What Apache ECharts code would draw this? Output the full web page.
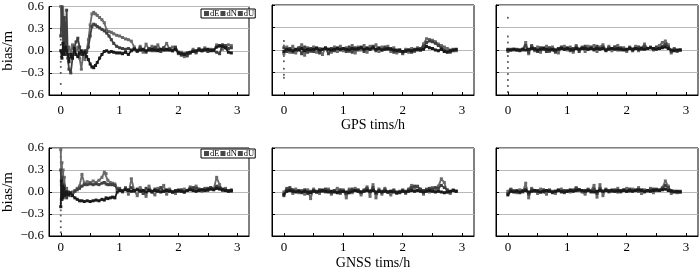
<!DOCTYPE html>
<html>
<head>
<meta charset="utf-8">
<script src="https://cdn.jsdelivr.net/npm/echarts@6/dist/echarts.min.js"></script>
<style>
  html, body { margin: 0; padding: 0; background: #fff; }
  #chart { width: 700px; height: 273px; }
</style>
</head>
<body>
<div id="chart"></div>
<script>
// time axis (h) for the converged panels
var tS = [
  0.00, 0.05, 0.10, 0.15, 0.20, 0.25, 0.30, 0.35, 0.40, 0.45,
  0.50, 0.55, 0.60, 0.65, 0.70, 0.75, 0.80, 0.85, 0.90, 0.95,
  1.00, 1.05, 1.10, 1.15, 1.20, 1.25, 1.30, 1.35, 1.40, 1.45,
  1.50, 1.55, 1.60, 1.65, 1.70, 1.75, 1.80, 1.85, 1.90, 1.95,
  2.00, 2.05, 2.10, 2.15, 2.20, 2.25, 2.30, 2.35, 2.40, 2.45,
  2.50, 2.55, 2.60, 2.65, 2.70, 2.75, 2.80, 2.85, 2.90];

// GPS, left panel
var t1 = [
  0.00, 0.02, 0.04, 0.06, 0.08, 0.10, 0.12, 0.14, 0.17, 0.20,
  0.23, 0.26, 0.29, 0.32, 0.35, 0.38, 0.41, 0.44, 0.47, 0.50,
  0.53, 0.56, 0.59, 0.62, 0.66, 0.70, 0.74, 0.78, 0.82, 0.86,
  0.90, 0.95, 1.00, 1.05, 1.10, 1.15, 1.20, 1.25, 1.30, 1.35,
  1.40, 1.45, 1.50, 1.55, 1.60, 1.65, 1.70, 1.75, 1.80, 1.85,
  1.90, 1.95, 2.00, 2.05, 2.10, 2.15, 2.20, 2.25, 2.30, 2.35,
  2.40, 2.45, 2.50, 2.55, 2.60, 2.65, 2.70, 2.75, 2.80, 2.85,
  2.90];
var e1 = [
  0.00, -0.10, 0.10, -0.05, 0.05, 0.00, -0.05, -0.15, -0.05, -0.10,
  0.03, -0.05, -0.08, -0.03, 0.00, -0.05, -0.02, -0.08, -0.12, -0.18,
  -0.22, -0.23, -0.20, -0.16, -0.10, -0.05, -0.01, 0.00, -0.02, -0.01,
  -0.02, -0.03, -0.03, -0.04, -0.02, -0.05, 0.00, 0.02, 0.00, 0.01,
  0.02, 0.00, 0.01, 0.02, 0.01, 0.00, 0.02, 0.01, 0.02, 0.01,
  0.00, 0.02, -0.03, -0.04, -0.05, -0.03, -0.02, -0.01, 0.00, 0.01,
  0.00, 0.01, 0.02, 0.00, 0.01, 0.05, 0.07, 0.06, 0.04, -0.02,
  -0.03];
var n1 = [
  0.20, 0.65, 0.10, 0.45, 0.00, 0.55, -0.10, -0.25, -0.30, -0.10,
  0.05, 0.12, 0.17, 0.05, -0.05, -0.02, 0.00, -0.02, 0.05, 0.20,
  0.33, 0.36, 0.35, 0.33, 0.31, 0.29, 0.27, 0.24, 0.20, 0.15,
  0.10, 0.06, 0.04, 0.03, 0.02, 0.03, 0.01, 0.03, -0.01, 0.04,
  0.01, -0.02, 0.03, 0.00, 0.05, 0.02, -0.01, 0.04, 0.01, 0.03,
  0.00, 0.05, -0.02, -0.06, -0.04, -0.07, -0.03, 0.00, -0.02, 0.02,
  0.00, 0.02, -0.01, 0.01, 0.00, -0.02, -0.04, 0.08, 0.07, 0.03,
  0.04];
var u1 = [
  0.60, 0.30, 0.62, 0.20, 0.05, -0.05, 0.02, 0.05, -0.02, 0.08,
  -0.05, 0.00, 0.05, -0.10, -0.25, -0.05, -0.12, 0.00, 0.15, 0.35,
  0.50, 0.52, 0.50, 0.48, 0.45, 0.42, 0.38, 0.28, 0.26, 0.25,
  0.23, 0.21, 0.20, 0.18, 0.16, 0.15, 0.13, 0.05, 0.00, 0.06,
  -0.02, 0.09, 0.02, 0.06, 0.00, 0.08, 0.01, 0.04, 0.10, 0.02,
  0.05, 0.03, -0.04, -0.02, -0.08, -0.05, -0.03, 0.02, -0.03, 0.03,
  0.01, 0.04, 0.00, 0.02, 0.01, 0.08, 0.06, 0.02, 0.05, 0.08,
  0.07];
var d1 = [0.30, 0.22, 0.15, 0.08, 0.00, -0.08, -0.15, -0.22, -0.30, -0.45];

// GPS, middle panel
var e2 = [
  -0.02, 0.01, 0.00, -0.01, 0.01, 0.00, 0.02, -0.01, 0.01, 0.00,
  0.01, 0.02, 0.00, 0.01, 0.02, 0.01, 0.00, 0.01, 0.02, 0.01,
  0.02, 0.01, 0.00, 0.02, 0.01, 0.02, 0.03, 0.01, 0.02, 0.01,
  0.03, 0.01, 0.02, 0.00, 0.01, 0.02, 0.01, 0.00, -0.01, 0.00,
  -0.02, -0.01, 0.00, -0.01, 0.00, 0.01, 0.00, 0.01, 0.05, 0.03,
  0.02, 0.00, -0.01, 0.01, -0.02, -0.03, -0.01, 0.00, 0.01];
var n2 = [
  0.03, -0.02, 0.02, -0.03, 0.00, 0.03, -0.05, 0.04, -0.03, 0.02,
  -0.02, 0.03, -0.04, 0.01, 0.03, -0.05, 0.02, -0.01, 0.03, 0.00,
  0.02, -0.02, 0.04, -0.03, 0.03, 0.00, 0.04, -0.02, 0.03, 0.01,
  0.05, -0.01, 0.03, 0.00, 0.04, 0.01, 0.02, -0.03, 0.00, -0.02,
  -0.04, -0.02, 0.00, -0.03, 0.01, 0.00, 0.02, 0.05, 0.10, 0.12,
  0.11, 0.09, 0.06, 0.03, 0.00, -0.02, -0.03, -0.01, 0.00];
var u2 = [
  -0.05, 0.04, -0.03, 0.05, -0.04, 0.02, 0.07, -0.07, 0.03, -0.02,
  0.04, -0.03, 0.02, -0.06, 0.03, 0.01, -0.03, 0.04, -0.02, 0.05,
  -0.01, 0.03, -0.02, 0.06, -0.04, 0.04, 0.00, 0.06, -0.03, 0.05,
  0.02, 0.07, -0.02, 0.04, 0.01, 0.05, -0.02, 0.03, -0.04, 0.00,
  -0.05, 0.01, -0.03, 0.02, -0.02, 0.03, 0.00, 0.08, 0.15, 0.14,
  0.13, 0.11, 0.08, 0.06, 0.04, 0.02, 0.00, 0.01, -0.01];
var d2 = [0.12, 0.06, -0.08, -0.15, -0.25, -0.33, -0.37];

// GPS, right panel
var e3 = [
  0.00, 0.00, 0.01, 0.00, 0.00, 0.01, 0.00, 0.01, 0.02, 0.01,
  0.00, 0.01, 0.02, 0.01, 0.00, 0.01, 0.00, 0.01, 0.02, 0.01,
  0.02, 0.01, 0.00, 0.02, 0.01, 0.02, 0.02, 0.01, 0.02, 0.01,
  0.02, 0.01, 0.02, 0.00, 0.01, 0.02, 0.01, 0.02, 0.01, 0.00,
  0.01, 0.02, 0.01, 0.02, 0.01, 0.02, 0.01, 0.02, 0.03, 0.02,
  0.01, 0.02, 0.03, 0.04, 0.02, 0.00, -0.01, 0.00, 0.00];
var n3 = [
  0.01, 0.00, 0.01, 0.00, -0.01, 0.00, 0.06, -0.03, 0.05, 0.02,
  -0.02, 0.03, 0.01, -0.02, 0.03, 0.00, -0.03, 0.02, 0.04, 0.01,
  0.03, -0.01, 0.02, 0.04, -0.02, 0.03, 0.05, 0.01, 0.04, 0.00,
  0.05, 0.02, 0.04, -0.01, 0.03, 0.02, 0.04, 0.00, 0.03, 0.01,
  0.00, 0.03, -0.01, 0.02, 0.04, 0.01, 0.05, 0.02, 0.03, 0.01,
  0.04, 0.02, 0.05, 0.08, 0.04, -0.02, 0.01, -0.01, 0.00];
var u3 = [
  -0.02, 0.01, 0.00, 0.01, 0.00, 0.01, 0.10, -0.05, 0.06, -0.01,
  0.04, -0.03, 0.03, 0.05, -0.02, 0.04, 0.00, -0.04, 0.03, 0.05,
  0.00, 0.04, -0.03, 0.06, 0.01, 0.04, -0.02, 0.05, 0.02, 0.06,
  -0.02, 0.04, 0.07, 0.00, 0.05, -0.01, 0.04, 0.06, 0.00, 0.03,
  -0.02, 0.04, 0.01, 0.05, -0.01, 0.03, 0.08, 0.02, 0.04, 0.00,
  0.03, 0.06, 0.10, 0.12, 0.07, -0.04, 0.02, -0.02, 0.00];
var d3 = [0.43, 0.18, 0.10, -0.08, -0.16, -0.24, -0.32, -0.40, -0.48, -0.56];

// GNSS, left panel
var t4 = [
  0.00, 0.01, 0.02, 0.03, 0.04, 0.05, 0.06, 0.08, 0.10, 0.13,
  0.16, 0.20, 0.24, 0.28, 0.32, 0.36, 0.40, 0.45, 0.50, 0.55,
  0.60, 0.65, 0.70, 0.74, 0.77, 0.80, 0.84, 0.88, 0.92, 0.96,
  1.00, 1.05, 1.10, 1.15, 1.20, 1.25, 1.30, 1.35, 1.40, 1.45,
  1.50, 1.55, 1.60, 1.65, 1.70, 1.75, 1.80, 1.85, 1.90, 1.95,
  2.00, 2.05, 2.10, 2.15, 2.20, 2.25, 2.30, 2.35, 2.40, 2.45,
  2.50, 2.55, 2.60, 2.65, 2.70, 2.75, 2.80, 2.85, 2.90];
var e4 = [
  -0.20, 0.15, -0.10, 0.08, -0.08, 0.05, -0.05, -0.03, 0.00, -0.04,
  -0.01, -0.05, -0.08, -0.10, -0.12, -0.12, -0.13, -0.12, -0.13, -0.12,
  -0.11, -0.12, -0.10, -0.11, -0.08, -0.09, -0.08, -0.07, -0.08, 0.00,
  0.02, 0.01, 0.03, 0.02, 0.01, 0.02, 0.03, 0.01, 0.02, 0.00,
  0.02, 0.01, 0.02, 0.01, 0.00, 0.01, 0.02, 0.01, 0.00, 0.01,
  0.02, 0.01, 0.00, 0.02, 0.03, 0.02, 0.01, 0.02, 0.03, 0.02,
  0.03, 0.04, 0.03, 0.05, 0.04, 0.03, 0.02, 0.01, 0.02];
var n4 = [
  0.30, -0.10, 0.20, 0.05, 0.10, -0.02, 0.08, 0.00, -0.08, 0.00,
  -0.02, -0.04, 0.01, 0.03, 0.05, 0.08, 0.10, 0.10, 0.11, 0.10,
  0.11, 0.10, 0.12, 0.13, 0.11, 0.10, 0.10, 0.10, 0.09, 0.04,
  0.04, 0.02, 0.05, 0.03, 0.06, 0.01, 0.04, 0.02, -0.02, 0.05,
  0.03, 0.00, 0.04, 0.02, 0.06, 0.01, 0.03, 0.02, 0.00, 0.02,
  0.01, 0.03, 0.00, 0.02, 0.05, 0.06, 0.05, 0.04, 0.03, 0.04,
  0.05, 0.06, 0.04, 0.08, 0.06, 0.04, 0.03, 0.02, 0.01];
var u4 = [
  0.58, 0.10, 0.40, 0.00, 0.30, -0.05, 0.20, -0.02, 0.05, -0.03,
  -0.05, 0.00, 0.02, 0.05, 0.08, 0.24, 0.12, 0.14, 0.13, 0.15,
  0.13, 0.16, 0.20, 0.27, 0.25, 0.16, 0.13, 0.12, 0.11, 0.05,
  0.05, 0.00, 0.06, -0.03, 0.18, 0.02, -0.05, 0.06, 0.02, -0.06,
  0.08, 0.00, -0.04, 0.05, 0.01, 0.09, -0.03, 0.04, 0.00, -0.02,
  0.03, 0.01, 0.04, 0.02, 0.07, 0.05, 0.08, 0.03, 0.01, 0.05,
  0.02, 0.06, 0.04, 0.20, 0.10, 0.02, 0.05, 0.01, 0.03];
var d4 = [0.55, 0.48, 0.40, -0.15, -0.25, -0.32, -0.40, -0.48, -0.55];

// GNSS, middle panel
var e5 = [
  -0.03, 0.01, 0.02, 0.01, 0.00, 0.01, 0.00, 0.01, 0.00, -0.01,
  0.01, 0.00, 0.01, 0.02, 0.01, 0.00, 0.01, 0.00, -0.01, 0.00,
  0.01, 0.00, -0.01, 0.01, 0.02, 0.01, 0.00, 0.01, 0.02, 0.01,
  0.02, 0.00, 0.01, 0.00, 0.01, 0.00, 0.01, 0.00, -0.01, 0.00,
  0.01, 0.00, 0.01, 0.02, 0.01, 0.02, 0.01, 0.00, 0.01, 0.02,
  0.01, 0.00, 0.01, 0.00, -0.01, 0.00, 0.01, 0.02, 0.01];
var n5 = [
  -0.05, 0.04, 0.06, 0.03, 0.01, 0.02, -0.01, 0.03, -0.02, 0.01,
  0.02, 0.00, 0.03, 0.01, 0.04, 0.02, -0.01, 0.02, 0.00, 0.03,
  0.01, -0.02, 0.02, 0.04, 0.02, 0.03, 0.00, 0.02, 0.05, 0.01,
  0.06, -0.02, 0.02, 0.01, 0.03, 0.00, 0.01, 0.02, 0.00, -0.01,
  0.02, 0.01, 0.03, 0.06, 0.08, 0.07, 0.04, 0.02, 0.03, 0.05,
  0.04, 0.06, 0.05, 0.09, 0.06, 0.03, 0.00, 0.02, 0.01];
var u5 = [
  0.00, 0.05, 0.03, -0.02, 0.04, -0.01, 0.02, -0.03, 0.03, -0.09,
  0.04, 0.01, -0.02, 0.03, 0.00, 0.04, -0.03, 0.02, 0.05, -0.02,
  0.03, -0.08, 0.04, -0.01, 0.05, 0.01, -0.04, 0.03, 0.07, -0.06,
  0.10, -0.08, 0.04, -0.03, 0.05, 0.00, -0.04, 0.03, -0.02, 0.01,
  0.03, -0.02, 0.04, 0.09, 0.05, 0.08, 0.02, -0.03, 0.04, 0.00,
  0.06, 0.02, 0.08, 0.18, 0.13, 0.00, -0.02, 0.03, 0.01];

// GNSS, right panel
var e6 = [
  -0.04, 0.01, 0.00, 0.01, 0.00, 0.01, 0.02, 0.00, 0.01, 0.02,
  0.01, 0.00, 0.01, 0.02, 0.01, 0.00, 0.01, 0.02, 0.01, 0.00,
  0.01, 0.02, 0.01, 0.02, 0.03, 0.02, 0.01, 0.02, 0.01, 0.00,
  0.01, 0.02, 0.01, 0.02, 0.01, 0.02, 0.01, 0.02, 0.01, 0.02,
  0.01, 0.02, 0.01, 0.02, 0.03, 0.02, 0.01, 0.02, 0.01, 0.02,
  0.03, 0.02, 0.03, 0.04, 0.02, 0.01, 0.00, 0.01, 0.00];
var n6 = [
  -0.02, 0.03, 0.01, 0.02, -0.01, 0.02, 0.04, -0.03, 0.03, 0.01,
  0.02, 0.00, 0.03, 0.01, 0.02, -0.01, 0.01, 0.03, 0.00, 0.02,
  0.01, 0.03, 0.02, 0.05, 0.03, 0.01, 0.02, 0.03, 0.00, 0.04,
  -0.02, 0.05, 0.01, 0.03, 0.02, 0.01, 0.03, 0.00, 0.02, 0.03,
  0.01, 0.04, 0.02, 0.03, 0.01, 0.03, 0.00, 0.02, 0.03, 0.04,
  0.02, 0.03, 0.05, 0.09, 0.06, 0.02, 0.01, 0.00, 0.01];
var u6 = [
  0.01, 0.04, 0.02, -0.01, 0.03, 0.00, 0.12, -0.08, 0.05, 0.02,
  -0.02, 0.04, 0.00, -0.03, 0.03, 0.01, -0.02, 0.02, 0.04, -0.01,
  0.02, 0.00, 0.03, 0.06, 0.02, 0.00, -0.03, 0.04, 0.02, 0.09,
  -0.07, 0.10, -0.05, 0.04, 0.00, 0.03, 0.01, 0.05, 0.00, 0.03,
  0.05, 0.01, 0.04, 0.02, 0.06, -0.02, 0.03, 0.01, 0.05, -0.01,
  0.04, 0.02, 0.06, 0.15, 0.08, -0.02, 0.01, -0.01, 0.00];

var names = ['dE', 'dN', 'dU'];
var colors = ['#1a1a1a', '#404040', '#6a6a6a'];
var xTicks = [0, 0.5, 1, 1.5, 2, 2.5, 3];
var xLabels = [0, 1, 2, 3];

var panels = [
  { t: t1, e: e1, n: n1, u: u1, d: d1 },
  { t: tS, e: e2, n: n2, u: u2, d: d2 },
  { t: tS, e: e3, n: n3, u: u3, d: d3 },
  { t: t4, e: e4, n: n4, u: u4, d: d4 },
  { t: tS, e: e5, n: n5, u: u5, d: [] },
  { t: tS, e: e6, n: n6, u: u6, d: [] }
];

var font = 'Liberation Serif';
var lefts = [49, 272, 496];
var widths = [200, 202, 202];
var tops = [5, 148];
var heights = [90, 88];

function zip(t, v) {
  return v.map(function (y, i) { return [t[i], y]; });
}

var grid = [], xAxis = [], yAxis = [], series = [];
panels.forEach(function (p, i) {
  var row = Math.floor(i / 3), col = i % 3;
  grid.push({
    left: lefts[col], top: tops[row], width: widths[col], height: heights[row],
    show: true, borderColor: '#000', borderWidth: 1, backgroundColor: '#fff'
  });
  xAxis.push({
    type: 'value', gridIndex: i, min: -0.2, max: 3.2,
    name: col === 1 ? (row === 0 ? 'GPS tims/h' : 'GNSS tims/h') : '',
    nameLocation: 'middle', nameGap: row === 0 ? 22 : 20,
    nameTextStyle: { fontFamily: font, fontSize: 14, color: '#000' },
    axisLine: { show: true, onZero: false, lineStyle: { color: '#000', width: 1 } },
    axisTick: { show: true, inside: true, length: 3, customValues: xTicks, lineStyle: { color: '#000' } },
    axisLabel: { customValues: xLabels, fontFamily: font, fontSize: 13, color: '#000', margin: row === 0 ? 9 : 5 },
    splitLine: { show: false }
  });
  yAxis.push({
    type: 'value', gridIndex: i, min: -0.6, max: 0.6, interval: 0.3,
    name: col === 0 ? 'bias/m' : '',
    nameLocation: 'middle', nameGap: 33, nameRotate: 90,
    nameTextStyle: { fontFamily: font, fontSize: 15, color: '#000' },
    axisLine: { show: true, onZero: false, lineStyle: { color: '#000', width: 1 } },
    axisTick: { show: true, inside: true, length: 3, lineStyle: { color: '#000' } },
    axisLabel: {
      show: col === 0, fontFamily: font, fontSize: 13, color: '#000', margin: 5,
      formatter: function (v) { return (v < -1e-9 ? '\u2212' : '') + Math.abs(v).toFixed(1); }
    },
    splitLine: { show: true, lineStyle: { color: '#b8b8b8', width: 1 } }
  });
  [p.u, p.n, p.e].forEach(function (vals, k) {
    var s = 2 - k;
    series.push({
      name: names[s], type: 'line', xAxisIndex: i, yAxisIndex: i,
      data: zip(p.t, vals), z: 3 + k,
      symbol: 'rect', symbolSize: 3, showSymbol: true,
      lineStyle: { color: colors[s], width: 1.8 },
      itemStyle: { color: colors[s] },
      animation: false, silent: true
    });
  });
  if (p.d.length) {
    series.push({
      name: 'dE', type: 'scatter', xAxisIndex: i, yAxisIndex: i,
      data: p.d.map(function (v) { return [0, v]; }),
      symbol: 'rect', symbolSize: 1.8, itemStyle: { color: '#333' },
      animation: false, silent: true, z: 2
    });
  }
});

// legend: the square is drawn in the rich text so it can sit close to its label
function legendAt(top) {
  return {
    data: names, left: 201, top: top, orient: 'horizontal',
    icon: 'rect', itemWidth: 0, itemHeight: 0, itemGap: -4,
    padding: [0, 1, 0, -2], borderColor: '#000', borderWidth: 1, backgroundColor: '#fff',
    formatter: function (name) { return '{sq| }{t|' + name + '}'; },
    textStyle: {
      fontFamily: font, fontSize: 8.5, color: '#000',
      rich: {
        sq: { width: 5, height: 5, backgroundColor: '#474747', fontSize: 5, verticalAlign: 'middle' },
        t: { fontFamily: font, fontSize: 8.5, color: '#000', padding: [0, 0, 0, 1] }
      }
    },
    selectedMode: false, z: 10
  };
}

var chart = echarts.init(document.getElementById('chart'), null, { renderer: 'canvas' });
chart.setOption({
  animation: false,
  backgroundColor: '#fff',
  grid: grid,
  xAxis: xAxis,
  yAxis: yAxis,
  legend: [legendAt(9), legendAt(149)],
  series: series
});
</script>
</body>
</html>
